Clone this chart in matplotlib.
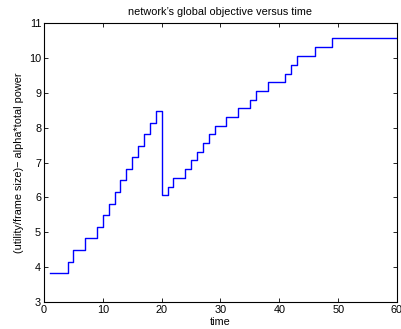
import matplotlib
matplotlib.use("Agg")
import matplotlib.pyplot as plt

plt.rcParams['font.family'] = ['Liberation Sans', 'DejaVu Sans']

# step change times and levels (steps-post)
times = [1, 4, 5, 7, 9, 10, 11, 12, 13, 14, 15, 16, 17, 18, 19, 20, 21, 22, 24,
         25, 26, 27, 28, 29, 31, 33, 35, 36, 38, 41, 42, 43, 46, 49, 60]
values = [3.83, 4.16, 4.49, 4.83, 5.16, 5.49, 5.82, 6.15, 6.49, 6.82, 7.15, 7.48,
          7.81, 8.14, 8.48, 6.06, 6.31, 6.56, 6.81, 7.06, 7.31, 7.56, 7.81, 8.06,
          8.31, 8.56, 8.80, 9.05, 9.30, 9.55, 9.80, 10.05, 10.30, 10.56, 10.56]

xticks = [0, 10, 20, 30, 40, 50, 60]
yticks = [3, 4, 5, 6, 7, 8, 9, 10, 11]

fig = plt.figure(figsize=(4.01, 3.29), dpi=100)
ax = fig.add_axes([0.1097, 0.082, 0.8803, 0.848])
ax.plot(times, values, drawstyle='steps-post', color='#0000ff', lw=1.0)
ax.set_xlim(0, 60)
ax.set_ylim(3, 11)
ax.set_xticks(xticks)
ax.set_yticks(yticks)
ax.tick_params(direction='in', top=True, right=True, labelsize=7.8, length=3, width=0.6, pad=2)
for s in ax.spines.values():
    s.set_linewidth(0.8)
ax.set_title("network\u2019s global objective versus time", fontsize=7.8, pad=6)
ax.set_xlabel("time", fontsize=7.8, labelpad=1.5)
ax.set_ylabel("(utility/frame size)\u2212 alpha*total power", fontsize=7.8, labelpad=4)
fig.savefig("out.png", dpi=100)
